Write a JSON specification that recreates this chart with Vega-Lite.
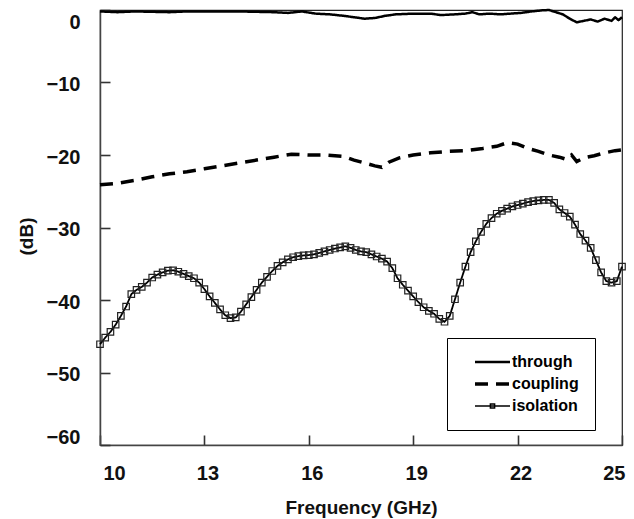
{
  "$schema": "https://vega.github.io/schema/vega-lite/v6.json",
  "width": 522,
  "height": 435,
  "autosize": {"type": "none"},
  "padding": {"left": 100, "top": 10, "right": 12, "bottom": 74},
  "background": "white",
  "config": {
    "view": {"stroke": "#222", "strokeWidth": 1.2},
    "font": "Liberation Sans",
    "axis": {
      "grid": false,
      "domainColor": "#444",
      "domainWidth": 1.5,
      "tickColor": "#333",
      "tickWidth": 1.6,
      "tickSize": -10,
      "labelFont": "Liberation Sans",
      "labelFontSize": 20,
      "labelFontWeight": "bold",
      "labelColor": "#111",
      "labelFlush": true,
      "titleFont": "Liberation Sans",
      "titleFontSize": 19,
      "titleFontWeight": "bold",
      "titleColor": "#111"
    }
  },
  "datasets": {
    "through": [
      {"f": 10.0, "db": -0.2}, {"f": 10.5, "db": -0.3}, {"f": 11.0, "db": -0.2}, {"f": 11.5, "db": -0.25},
      {"f": 12.0, "db": -0.3}, {"f": 12.5, "db": -0.2}, {"f": 13.0, "db": -0.2}, {"f": 13.5, "db": -0.2},
      {"f": 14.0, "db": -0.2}, {"f": 14.5, "db": -0.25}, {"f": 15.0, "db": -0.3}, {"f": 15.4, "db": -0.4},
      {"f": 15.8, "db": -0.2}, {"f": 16.2, "db": -0.5}, {"f": 16.6, "db": -0.6}, {"f": 17.0, "db": -0.8},
      {"f": 17.3, "db": -1.0}, {"f": 17.6, "db": -1.2}, {"f": 17.9, "db": -1.1}, {"f": 18.2, "db": -0.8},
      {"f": 18.5, "db": -0.6}, {"f": 19.0, "db": -0.5}, {"f": 19.5, "db": -0.5}, {"f": 19.8, "db": -0.7},
      {"f": 20.2, "db": -0.6}, {"f": 20.5, "db": -0.5}, {"f": 20.7, "db": -0.3}, {"f": 20.9, "db": -0.6},
      {"f": 21.2, "db": -0.5}, {"f": 21.5, "db": -0.6}, {"f": 21.8, "db": -0.5}, {"f": 22.1, "db": -0.4},
      {"f": 22.4, "db": -0.2}, {"f": 22.7, "db": -0.05}, {"f": 22.9, "db": 0.0}, {"f": 23.1, "db": -0.3},
      {"f": 23.3, "db": -0.6}, {"f": 23.5, "db": -1.2}, {"f": 23.7, "db": -1.7}, {"f": 23.9, "db": -1.5},
      {"f": 24.1, "db": -1.3}, {"f": 24.3, "db": -1.6}, {"f": 24.5, "db": -1.2}, {"f": 24.7, "db": -1.5},
      {"f": 24.8, "db": -1.0}, {"f": 24.9, "db": -1.4}, {"f": 25.0, "db": -1.0}
    ],
    "coupling": [
      {"f": 10.0, "db": -24.1}, {"f": 10.5, "db": -23.9}, {"f": 11.0, "db": -23.5}, {"f": 11.5, "db": -23.0},
      {"f": 12.0, "db": -22.6}, {"f": 12.5, "db": -22.3}, {"f": 13.0, "db": -21.9}, {"f": 13.5, "db": -21.5},
      {"f": 14.0, "db": -21.1}, {"f": 14.5, "db": -20.7}, {"f": 15.0, "db": -20.3}, {"f": 15.5, "db": -19.9},
      {"f": 16.0, "db": -20.0}, {"f": 16.5, "db": -20.0}, {"f": 17.0, "db": -20.2}, {"f": 17.3, "db": -20.7},
      {"f": 17.6, "db": -21.1}, {"f": 17.9, "db": -21.5}, {"f": 18.1, "db": -21.7}, {"f": 18.3, "db": -21.0},
      {"f": 18.6, "db": -20.4}, {"f": 19.0, "db": -20.0}, {"f": 19.5, "db": -19.7}, {"f": 20.0, "db": -19.5},
      {"f": 20.5, "db": -19.4}, {"f": 21.0, "db": -19.1}, {"f": 21.4, "db": -18.8}, {"f": 21.7, "db": -18.3},
      {"f": 22.0, "db": -18.5}, {"f": 22.3, "db": -19.1}, {"f": 22.6, "db": -19.5}, {"f": 22.9, "db": -20.0},
      {"f": 23.2, "db": -20.3}, {"f": 23.4, "db": -20.6}, {"f": 23.55, "db": -20.0}, {"f": 23.7, "db": -20.9},
      {"f": 23.9, "db": -20.4}, {"f": 24.2, "db": -20.1}, {"f": 24.5, "db": -19.7}, {"f": 24.8, "db": -19.4},
      {"f": 25.0, "db": -19.3}
    ],
    "isolation": [
      {"f": 10.00, "db": -46.1}, {"f": 10.15, "db": -45.2}, {"f": 10.30, "db": -44.4}, {"f": 10.45, "db": -43.4},
      {"f": 10.60, "db": -42.2}, {"f": 10.75, "db": -40.9}, {"f": 10.90, "db": -39.2}, {"f": 11.05, "db": -38.6},
      {"f": 11.20, "db": -38.2}, {"f": 11.35, "db": -37.6}, {"f": 11.50, "db": -36.9}, {"f": 11.65, "db": -36.5},
      {"f": 11.80, "db": -36.2}, {"f": 11.95, "db": -35.95}, {"f": 12.10, "db": -35.9}, {"f": 12.25, "db": -36.1},
      {"f": 12.40, "db": -36.4}, {"f": 12.55, "db": -36.7}, {"f": 12.70, "db": -37.0}, {"f": 12.85, "db": -37.6},
      {"f": 13.00, "db": -38.5}, {"f": 13.15, "db": -39.5}, {"f": 13.30, "db": -40.4}, {"f": 13.45, "db": -41.3},
      {"f": 13.60, "db": -42.1}, {"f": 13.75, "db": -42.5}, {"f": 13.90, "db": -42.4}, {"f": 14.05, "db": -41.6},
      {"f": 14.20, "db": -40.6}, {"f": 14.35, "db": -39.6}, {"f": 14.50, "db": -38.6}, {"f": 14.65, "db": -37.6},
      {"f": 14.80, "db": -36.8}, {"f": 14.95, "db": -36.0}, {"f": 15.10, "db": -35.3}, {"f": 15.25, "db": -34.8},
      {"f": 15.40, "db": -34.4}, {"f": 15.55, "db": -34.1}, {"f": 15.70, "db": -33.95}, {"f": 15.85, "db": -33.85},
      {"f": 16.00, "db": -33.8}, {"f": 16.15, "db": -33.7}, {"f": 16.30, "db": -33.5}, {"f": 16.45, "db": -33.3},
      {"f": 16.60, "db": -33.1}, {"f": 16.75, "db": -32.9}, {"f": 16.90, "db": -32.75}, {"f": 17.05, "db": -32.6},
      {"f": 17.20, "db": -32.8}, {"f": 17.35, "db": -33.1}, {"f": 17.50, "db": -33.3}, {"f": 17.65, "db": -33.4},
      {"f": 17.80, "db": -33.7}, {"f": 17.95, "db": -34.0}, {"f": 18.10, "db": -34.3}, {"f": 18.25, "db": -34.7},
      {"f": 18.40, "db": -35.6}, {"f": 18.55, "db": -37.0}, {"f": 18.70, "db": -37.9}, {"f": 18.85, "db": -38.7},
      {"f": 19.00, "db": -39.5}, {"f": 19.15, "db": -40.3}, {"f": 19.30, "db": -41.0}, {"f": 19.45, "db": -41.5},
      {"f": 19.60, "db": -41.9}, {"f": 19.75, "db": -42.6}, {"f": 19.90, "db": -43.0}, {"f": 20.05, "db": -42.2},
      {"f": 20.20, "db": -39.9}, {"f": 20.35, "db": -37.6}, {"f": 20.50, "db": -35.4}, {"f": 20.65, "db": -33.4},
      {"f": 20.80, "db": -31.9}, {"f": 20.95, "db": -30.6}, {"f": 21.10, "db": -29.5}, {"f": 21.25, "db": -28.7},
      {"f": 21.40, "db": -28.1}, {"f": 21.55, "db": -27.7}, {"f": 21.70, "db": -27.4}, {"f": 21.85, "db": -27.1},
      {"f": 22.00, "db": -26.9}, {"f": 22.15, "db": -26.7}, {"f": 22.30, "db": -26.5}, {"f": 22.45, "db": -26.35},
      {"f": 22.60, "db": -26.25}, {"f": 22.75, "db": -26.2}, {"f": 22.90, "db": -26.2}, {"f": 23.05, "db": -26.6},
      {"f": 23.20, "db": -27.5}, {"f": 23.35, "db": -28.0}, {"f": 23.50, "db": -28.5}, {"f": 23.65, "db": -29.6},
      {"f": 23.80, "db": -30.9}, {"f": 23.95, "db": -31.8}, {"f": 24.10, "db": -32.8}, {"f": 24.25, "db": -34.5},
      {"f": 24.40, "db": -36.2}, {"f": 24.55, "db": -37.4}, {"f": 24.70, "db": -37.6}, {"f": 24.85, "db": -37.4},
      {"f": 25.00, "db": -35.4}
    ]
  },
  "layer": [
    {
      "data": {"name": "through"},
      "transform": [{"calculate": "'through'", "as": "series"}],
      "mark": {"type": "line", "color": "black", "strokeWidth": 2.5, "strokeJoin": "round"},
      "encoding": {
        "x": {"field": "f", "type": "quantitative", "scale": {"domain": [10, 25], "nice": false, "zero": false},
              "axis": {"values": [10, 13, 16, 19, 22, 25], "title": "Frequency (GHz)", "labelPadding": 28, "labelOffset": 3, "titleY": 68, "titleBaseline": "alphabetic"}},
        "y": {"field": "db", "type": "quantitative", "scale": {"domain": [-60, 0], "nice": false, "zero": false},
              "axis": {"values": [-60, -50, -40, -30, -20, -10, 0], "title": "(dB)", "labelPadding": 30, "labelOffset": 2,
                       "titleX": -74, "titleY": 226, "titleAngle": 270, "titleAlign": "center", "titleBaseline": "middle"}},
        "strokeDash": {"field": "series", "type": "nominal",
          "scale": {"domain": ["through", "coupling", "isolation"], "range": [[1, 0], [13, 8], [1, 0]]},
          "legend": {
            "orient": "none", "legendX": 347, "legendY": 328, "title": null,
            "padding": 16, "strokeColor": "black", "fillColor": "white",
            "labelFont": "Liberation Sans", "labelFontSize": 16, "labelFontWeight": "bold", "labelColor": "black",
            "labelExpr": "datum.label + '     '",
            "rowPadding": 6, "symbolSize": 1225, "symbolStrokeColor": "black", "symbolStrokeWidth": 2.5, "symbolType": "stroke",
            "encode": {
              "symbols": {"update": {
                "x": {"value": 29.5},
                "shape": {"signal": "datum.value === 'isolation' ? 'M-1,0H1M-0.12,-0.12H0.12V0.12H-0.12Z' : 'stroke'"},
                "strokeWidth": {"signal": "datum.value === 'coupling' ? 3.5 : datum.value === 'isolation' ? 1.5 : 2.5"}
              }},
              "labels": {"update": {"x": {"value": 49}}}
            }
          }}
      }
    },
    {
      "data": {"name": "coupling"},
      "transform": [{"calculate": "'coupling'", "as": "series"}],
      "mark": {"type": "line", "color": "black", "strokeWidth": 3.5},
      "encoding": {
        "x": {"field": "f", "type": "quantitative"},
        "y": {"field": "db", "type": "quantitative"},
        "strokeDash": {"field": "series", "type": "nominal"}
      }
    },
    {
      "data": {"name": "isolation"},
      "transform": [{"calculate": "'isolation'", "as": "series"}],
      "mark": {"type": "line", "color": "black", "strokeWidth": 1.8},
      "encoding": {
        "x": {"field": "f", "type": "quantitative"},
        "y": {"field": "db", "type": "quantitative"},
        "strokeDash": {"field": "series", "type": "nominal"}
      }
    },
    {
      "data": {"name": "isolation"},
      "mark": {"type": "point", "shape": "square", "filled": false, "stroke": "#222", "strokeWidth": 1.2, "size": 42, "opacity": 1},
      "encoding": {
        "x": {"field": "f", "type": "quantitative"},
        "y": {"field": "db", "type": "quantitative"}
      }
    }
  ]
}
